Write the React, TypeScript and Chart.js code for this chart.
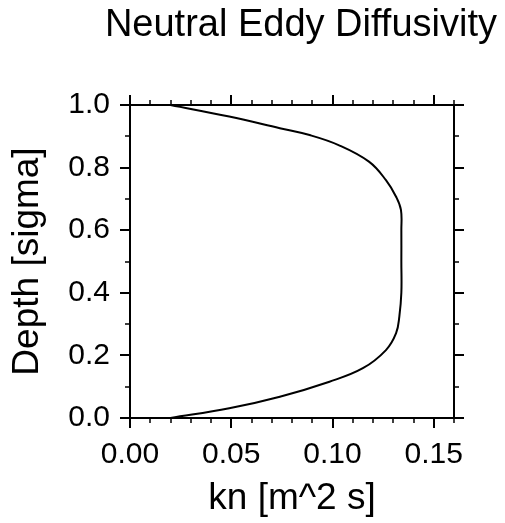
import React, { useEffect, useRef } from "react";
import { Chart, registerables } from "chart.js";

Chart.register(...registerables);

// Depth (sigma) and neutral eddy diffusivity kn
const depth = [1.0, 0.963, 0.926, 0.904, 0.872, 0.819, 0.76, 0.707, 0.665, 0.6, 0.5, 0.4, 0.324, 0.271, 0.217, 0.159, 0.116, 0.068, 0.031, 0.0];
const kn = [0.02, 0.049, 0.074, 0.0887, 0.103, 0.118, 0.1264, 0.1314, 0.1338, 0.134, 0.134, 0.134, 0.133, 0.1314, 0.1264, 0.115, 0.0985, 0.074, 0.049, 0.02];

const xTicks = [0, 0.05, 0.1, 0.15];
const yTicks = [0, 0.2, 0.4, 0.6, 0.8, 1.0];
const xMinorStep = 0.01;
const yMinorStep = 0.1;

const titleText = "Neutral Eddy Diffusivity";
const xTitle = "kn [m^2 s]";
const yTitle = "Depth [sigma]";

const FONT = "'Liberation Sans', Arial, Helvetica, sans-serif";

const framePlugin = {
  id: "frameTicks",
  afterDraw(chart: any) {
    const { ctx, chartArea } = chart;
    const xs = chart.scales.x;
    const ys = chart.scales.y;
    const { left, right, top, bottom } = chartArea;
    ctx.save();
    ctx.strokeStyle = "#000";
    ctx.lineWidth = 2;
    ctx.strokeRect(left, top, right - left, bottom - top);
    const major = 10;
    const minor = 5;
    for (let i = 0; i * xMinorStep <= xs.max + 1e-9; i++) {
      const v = i * xMinorStep;
      const isMajor = xTicks.some((t) => Math.abs(t - v) < 1e-9);
      const len = isMajor ? major : minor;
      const px = Math.round(xs.getPixelForValue(v));
      ctx.lineWidth = isMajor ? 2 : 1.5;
      ctx.beginPath();
      ctx.moveTo(px, bottom);
      ctx.lineTo(px, bottom + len);
      ctx.moveTo(px, top);
      ctx.lineTo(px, top - len);
      ctx.stroke();
    }
    for (let i = 0; i * yMinorStep <= ys.max + 1e-9; i++) {
      const v = i * yMinorStep;
      const isMajor = yTicks.some((t) => Math.abs(t - v) < 1e-9);
      const len = isMajor ? major : minor;
      const py = Math.round(ys.getPixelForValue(v));
      ctx.lineWidth = isMajor ? 2 : 1.5;
      ctx.beginPath();
      ctx.moveTo(left, py);
      ctx.lineTo(left - len, py);
      ctx.moveTo(right, py);
      ctx.lineTo(right + len, py);
      ctx.stroke();
    }
    ctx.restore();
  },
};

export default function App() {
  const canvasRef = useRef<HTMLCanvasElement>(null);

  useEffect(() => {
    const canvas = canvasRef.current;
    if (!canvas) return;
    const chart = new Chart(canvas, {
      type: "scatter",
      data: {
        datasets: [
          {
            data: depth.map((d, i) => ({ x: kn[i], y: d })),
            showLine: true,
            borderColor: "#000",
            borderWidth: 2,
            pointRadius: 0,
            tension: 0.4,
            fill: false,
          },
        ],
      },
      options: {
        responsive: false,
        animation: false,
        layout: { padding: { left: 0, right: 8, top: 0, bottom: 0 } },
        plugins: {
          legend: { display: false },
          tooltip: { enabled: false },
          title: {
            display: true,
            text: titleText,
            fullSize: true,
            align: "end",
            color: "#000",
            font: { family: FONT, size: 38, weight: "normal" },
            padding: { top: 3, bottom: 56.4 },
          },
        },
        scales: {
          x: {
            type: "linear",
            min: 0,
            max: 0.16,
            grid: { display: false, drawTicks: false },
            border: { display: false },
            afterBuildTicks: (scale: any) => {
              scale.ticks = xTicks.map((v) => ({ value: v }));
            },
            afterFit: (scale: any) => {
              scale.height = 105;
            },
            ticks: {
              autoSkip: false,
              maxRotation: 0,
              padding: 19,
              color: "#000",
              font: { family: FONT, size: 30 },
              callback: (v: any) => Number(v).toFixed(2),
            },
            title: {
              display: true,
              text: xTitle,
              color: "#000",
              font: { family: FONT, size: 37 },
              padding: { top: 0, bottom: 2 },
            },
          },
          y: {
            type: "linear",
            min: 0,
            max: 1,
            grid: { display: false, drawTicks: false },
            border: { display: false },
            afterBuildTicks: (scale: any) => {
              scale.ticks = yTicks.map((v) => ({ value: v }));
            },
            afterFit: (scale: any) => {
              scale.width = 130;
            },
            ticks: {
              autoSkip: false,
              padding: 20,
              color: "#000",
              font: { family: FONT, size: 30 },
              callback: (v: any) => Number(v).toFixed(1),
            },
            title: {
              display: true,
              text: yTitle,
              color: "#000",
              font: { family: FONT, size: 37 },
              padding: { top: 6, bottom: 0 },
            },
          },
          yRight: {
            type: "linear",
            position: "right",
            min: 0,
            max: 1,
            grid: { display: false, drawTicks: false },
            border: { display: false },
            ticks: { display: false },
            afterFit: (scale: any) => {
              scale.width = 43;
            },
          },
        },
      },
      plugins: [framePlugin],
    });
    return () => chart.destroy();
  }, []);

  return (
    <div style={{ position: "absolute", left: 0, top: 0, width: 505, height: 523, background: "#fff" }}>
      <canvas ref={canvasRef} width={505} height={523} style={{ display: "block" }} />
    </div>
  );
}
